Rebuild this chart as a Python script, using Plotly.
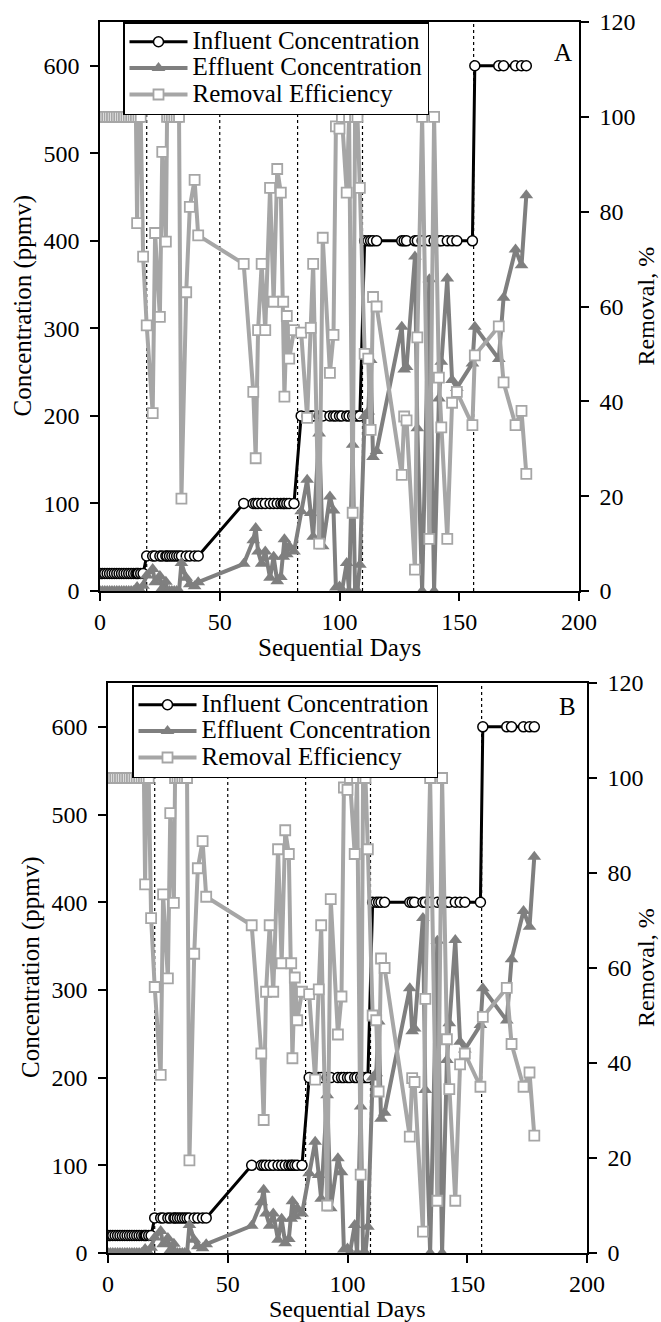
import plotly.graph_objects as go

W, H = 661, 1322
FONT = "Liberation Serif"

# ---------------- data ----------------
days = [
    0, 1, 2, 3, 4, 5, 6, 7, 8, 9, 10, 11, 12, 13, 14, 15, 15.5, 16, 17, 18,
    19.5, 22, 23, 25, 26, 27.5, 28, 29, 30, 31, 32, 33, 34, 36, 37.5, 39.5, 41,
    60, 64, 65, 66, 67.5, 69, 71, 72.5, 74, 75.5, 76.5, 77, 78, 79, 81,
    84, 86.5, 88, 89, 91.5, 93, 96, 97.5, 98.5, 100, 101, 103, 104, 105.5, 106.5, 107.5, 108.5,
    110.5, 112, 113, 114, 115.5, 126, 127, 128, 131.5, 132.5, 134.5, 137.5, 139.5, 141.5, 142.5, 145, 147, 149, 155.5,
    156.5, 166.5, 168.5, 173.5, 176, 178,
]
influent = [
    20, 20, 20, 20, 20, 20, 20, 20, 20, 20, 20, 20, 20, 20, 20, 20, 20, 20, 20, 20,
    40, 40, 40, 40, 40, 40, 40, 40, 40, 40, 40, 40, 40, 40, 40, 40, 40,
    100, 100, 100, 100, 100, 100, 100, 100, 100, 100, 100, 100, 100, 100, 100,
    200, 200, 200, 200, 200, 200, 200, 200, 200, 200, 200, 200, 200, 200, 200, 200, 200,
    400, 400, 400, 400, 400, 400, 400, 400, 400, 400, 400, 400, 400, 400, 400, 400, 400, 400, 400,
    600, 600, 600, 600, 600, 600,
]
effluent = [
    0, 0, 0, 0, 0, 0, 0, 0, 0, 0, 0, 0, 0, 0, 0, 0, 4.5, 0, 0, 6,
    17.6, 25, 10, 17, 3, 10.5, 0, 0, 0, 0, 0, 0, 32, 15, 7.6, 5.3, 10,
    31, 58, 72, 45, 31, 45, 15, 39, 11, 16, 39, 59, 42, 51, 45,
    91, 127, 89, 62, 180, 51, 108, 92, 4, 5, 0, 32, 0, 167, 0, 0, 30,
    200, 205, 264, 153, 160, 302, 253, 256, 382, 186, 0, 356, 0, 220, 262, 357, 241, 232, 260,
    302, 265, 335, 390, 372, 452,
]
removal = [
    100, 100, 100, 100, 100, 100, 100, 100, 100, 100, 100, 100, 100, 100, 100, 100, 77.6, 100, 100, 70.5,
    56, 37.5, 75.5, 57.8, 92.6, 73.7, 100, 100, 100, 100, 100, 100, 19.5, 63, 81, 86.7, 75,
    69, 42, 28, 55, 69, 55, 85, 61, 89, 84, 61, 41, 58, 49, 55,
    54.5, 36.5, 55.5, 69, 10, 74.5, 46, 54, 98, 97.5, 100, 84, 100, 16.5, 100, 100, 85,
    50, 49, 34, 62, 60, 24.5, 36.8, 36, 4.5, 53.5, 100, 11, 100, 45, 34.5, 11, 39.7, 42, 35,
    49.7, 55.8, 44, 35, 38, 24.7,
]

phase_days = [19.5, 50, 82.5, 109.6, 156]
day_ticks = [0, 50, 100, 150, 200]
conc_ticks = [0, 100, 200, 300, 400, 500, 600]
removal_ticks = [0, 20, 40, 60, 80, 100, 120]
series_names = ["Influent Concentration", "Effluent Concentration", "Removal Efficiency"]
panel_labels = ["A", "B"]
x_title = "Sequential Days"
y_title = "Concentration (ppmv)"
y2_title = "Removal, %"

# ---------------- layout geometry (pixels) ----------------
panels = [
    dict(left=100, right=579, top=22, bottom=591, leg_left=123, leg_top=22,
         lab=(563, 53), ylab_x=22, y2lab_x=645, xlab_y=647, xlab_size=25),
    dict(left=108, right=587, top=683, bottom=1253, leg_left=132, leg_top=685,
         lab=(567, 706), ylab_x=31, y2lab_x=646, xlab_y=1309, xlab_size=24),
]

def fx(px):
    return px / W

def fy(py):
    return 1 - py / H

BLACK = "#000000"
EFF = "#7f7f7f"
REM = "#a6a6a6"
LEG_TEXT = '<span style="font-size:25px">{}</span>'

fig = go.Figure()

axis_common = dict(
    showline=True, linecolor=BLACK, linewidth=1.5,
    ticks="outside", ticklen=8, tickwidth=1.5, tickcolor=BLACK,
    showgrid=False, zeroline=False,
    tickfont=dict(family=FONT, size=24, color=BLACK),
    automargin=False,
)

annotations = []
shapes = []
layout_axes = {}

for i, p in enumerate(panels):
    xname = "x" if i == 0 else "x2"
    yname = "y" if i == 0 else "y3"
    y2name = "y2" if i == 0 else "y4"
    legname = "legend" if i == 0 else "legend2"

    fig.add_trace(go.Scatter(
        x=days, y=influent, name=LEG_TEXT.format(series_names[0]), mode="lines+markers",
        xaxis=xname, yaxis=yname, legend=legname,
        line=dict(color=BLACK, width=3),
        marker=dict(symbol="circle", size=10, color="white", line=dict(color=BLACK, width=1.5)),
    ))
    fig.add_trace(go.Scatter(
        x=days, y=effluent, name=LEG_TEXT.format(series_names[1]), mode="lines+markers",
        xaxis=xname, yaxis=yname, legend=legname,
        line=dict(color=EFF, width=4),
        marker=dict(symbol="triangle-up", size=12, color=EFF),
    ))
    fig.add_trace(go.Scatter(
        x=days, y=removal, name=LEG_TEXT.format(series_names[2]), mode="lines+markers",
        xaxis=xname, yaxis=y2name, legend=legname,
        line=dict(color=REM, width=4),
        marker=dict(symbol="square", size=10, color="white", line=dict(color=REM, width=1.8)),
    ))

    xdom = [fx(p["left"]), fx(p["right"])]
    ydom = [fy(p["bottom"]), fy(p["top"])]
    xkey = "xaxis" if i == 0 else "xaxis2"
    ykey = "yaxis" if i == 0 else "yaxis3"
    y2key = "yaxis2" if i == 0 else "yaxis4"
    layout_axes[xkey] = dict(axis_common, domain=xdom, anchor=yname, range=[0, 200],
                             tickvals=day_ticks, mirror=True, ticklabelstandoff=0)
    layout_axes[ykey] = dict(axis_common, domain=ydom, anchor=xname, range=[0, 650],
                             tickvals=conc_ticks, ticklabelstandoff=6)
    layout_axes[y2key] = dict(axis_common, domain=ydom, anchor=xname, overlaying=yname,
                              side="right", range=[0, 120], tickvals=removal_ticks,
                              ticklabelstandoff=6)

    for d in phase_days:
        shapes.append(dict(type="line", xref=xname, yref=f"{yname} domain",
                           x0=d, x1=d, y0=0, y1=1, layer="below",
                           line=dict(color=BLACK, width=1.2, dash="dot")))

    common_ann = dict(xref="paper", yref="paper", showarrow=False,
                      xanchor="center", yanchor="middle",
                      font=dict(family=FONT, size=25, color=BLACK))
    annotations.append(dict(common_ann, text=panel_labels[i],
                            x=fx(p["lab"][0]), y=fy(p["lab"][1])))
    annotations.append(dict(common_ann, text=y_title, textangle=-90,
                            x=fx(p["ylab_x"]), y=fy((p["top"] + p["bottom"]) / 2)))
    annotations.append(dict(common_ann, text=y2_title, textangle=-90,
                            x=fx(p["y2lab_x"]), y=fy((p["top"] + p["bottom"]) / 2),
                            font=dict(family=FONT, size=24, color=BLACK)))
    annotations.append(dict(common_ann, text=x_title,
                            x=fx((p["left"] + p["right"]) / 2), y=fy(p["xlab_y"]),
                            font=dict(family=FONT, size=p["xlab_size"], color=BLACK)))

    layout_axes[legname] = dict(
        x=fx(p["leg_left"]), y=fy(p["leg_top"]), xanchor="left", yanchor="top",
        bgcolor="white", bordercolor=BLACK, borderwidth=1.5,
        font=dict(family=FONT, size=18, color=BLACK),
        itemwidth=58, tracegroupgap=0,
    )

fig.update_layout(
    width=W, height=H, autosize=False,
    margin=dict(l=0, r=0, t=0, b=0, pad=0, autoexpand=False),
    paper_bgcolor="white", plot_bgcolor="white",
    showlegend=True,
    annotations=annotations, shapes=shapes,
    font=dict(family=FONT, color=BLACK),
    **layout_axes,
)

fig.write_html("out.html")
